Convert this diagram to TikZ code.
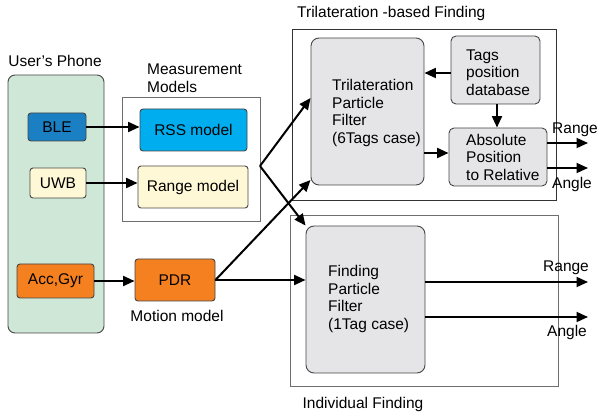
\documentclass[tikz,border=0pt]{standalone}
\usepackage{fontspec}
\setmainfont{Liberation Sans}
\usetikzlibrary{arrows.meta}
\definecolor{phonegreen}{RGB}{207,231,215}
\definecolor{bleblue}{RGB}{27,127,196}
\definecolor{rsscyan}{RGB}{0,174,239}
\definecolor{paleyellow}{RGB}{255,248,214}
\definecolor{pdrorange}{RGB}{244,128,31}
\definecolor{pfgrey}{RGB}{229,229,231}
\definecolor{edgegrey}{RGB}{70,70,70}
\definecolor{framegrey}{RGB}{110,110,110}
\tikzset{
  txt/.style={font=\fontsize{15.5}{17.5}\selectfont, inner sep=0pt, align=left},
  box/.style={draw=edgegrey, line width=0.9pt, rounded corners=3pt, inner sep=0pt},
  pfbox/.style={box, fill=pfgrey, rounded corners=8pt},
  frame/.style={draw=framegrey, line width=0.9pt, inner sep=0pt},
  conn/.style={line width=2pt, -{Triangle[length=11.5pt,width=10pt]}}
}
\begin{document}
\begin{tikzpicture}[x=1pt,y=-1pt]
\useasboundingbox (0,0) rectangle (598,417);

% user's phone
\node[box, fill=phonegreen, rounded corners=7pt, minimum width=96pt, minimum height=258pt] (phone) at (56,204) {};
\node[txt, anchor=center] (phonelbl) at (55,61) {User’s Phone};
\node[box, fill=bleblue, minimum width=58pt, minimum height=28pt, txt] (ble) at (57,127) {BLE};
\node[box, fill=paleyellow, minimum width=56pt, minimum height=30pt, txt] (uwb) at (58,183) {UWB};
\node[box, fill=pdrorange, minimum width=77pt, minimum height=34pt, txt] (acc) at (55.5,281) {Acc,Gyr};

% measurement models
\node[frame, minimum width=138pt, minimum height=124pt] (meas) at (191,159) {};
\node[txt, anchor=west] (measlbl) at (147,78) {Measurement\\Models};
\node[box, fill=rsscyan, minimum width=107pt, minimum height=42pt, txt] (rss) at (193.5,130) {RSS model};
\node[box, fill=paleyellow, minimum width=110pt, minimum height=42pt, txt] (rangem) at (193,187) {Range model};

% motion model
\node[box, fill=pdrorange, minimum width=80pt, minimum height=42pt, txt] (pdr) at (175,280) {PDR};
\node[txt] (pdrlbl) at (177,316) {Motion model};

% trilateration-based finding
\node[frame, draw=black!80, minimum width=264pt, minimum height=171pt] (trif) at (424,114.5) {};
\node[txt, anchor=west] (triflbl) at (297,13) {Trilateration -based Finding};
\node[pfbox, minimum width=113pt, minimum height=147pt] (tpf) at (367.5,111.5) {};
\node[txt, anchor=west] (tpftxt) at (332,113) {Trilateration\\Particle\\Filter\\(6Tags case)};
\node[pfbox, rounded corners=5pt, minimum width=89pt, minimum height=68pt] (tags) at (495.5,70) {};
\node[txt, anchor=west] (tagstxt) at (466,72.5) {Tags\\position\\database};
\node[pfbox, rounded corners=5pt, minimum width=98pt, minimum height=58pt] (abs) at (498,157) {};
\node[txt, anchor=west] (abstxt) at (466,157) {Absolute\\Position\\to Relative};

% individual finding
\node[frame, minimum width=268pt, minimum height=171pt] (indf) at (424,300.5) {};
\node[txt] (indflbl) at (363,404) {Individual Finding};
\node[pfbox, minimum width=119pt, minimum height=147pt] (fpf) at (365.5,299.5) {};
\node[txt, anchor=west] (fpftxt) at (328,299) {Finding\\Particle\\Filter\\(1Tag case)};

% output labels
\node[txt, anchor=west] (range1) at (552,130) {Range};
\node[txt, anchor=west] (angle1) at (552,184) {Angle};
\node[txt, anchor=west] (range2) at (543,268) {Range};
\node[txt, anchor=west] (angle2) at (547,332) {Angle};

% connector end points
\coordinate (measout) at (260,166);
\coordinate (r1) at (588,143);
\coordinate (a1) at (588,168);
\coordinate (r2) at (588,282);
\coordinate (a2) at (588,317);

% connectors
\draw[conn] (ble.east) -- (rss.west |- ble.east);
\draw[conn] (uwb.east) -- (rangem.west |- uwb.east);
\draw[conn] (acc.east) -- (pdr.west |- acc.east);
\draw[conn] (measout) -- (tpf.west |- 0,98);
\draw[conn] (measout) -- (fpf.north west);
\draw[conn] (pdr.east) -- (tpf.west |- 0,180);
\draw[conn] (pdr.east) -- (fpf.west |- pdr.east);
\draw[conn] (tags.west |- 0,73) -- (tpf.east |- 0,73);
\draw[conn] (tags.south -| 497,0) -- (abs.north -| 497,0);
\draw[conn] (tpf.east |- 0,153) -- (abs.west |- 0,153);
\draw[conn] (abs.east |- r1) -- (r1);
\draw[conn] (abs.east |- a1) -- (a1);
\draw[conn] (fpf.east |- r2) -- (r2);
\draw[conn] (fpf.east |- a2) -- (a2);
\end{tikzpicture}
\end{document}
